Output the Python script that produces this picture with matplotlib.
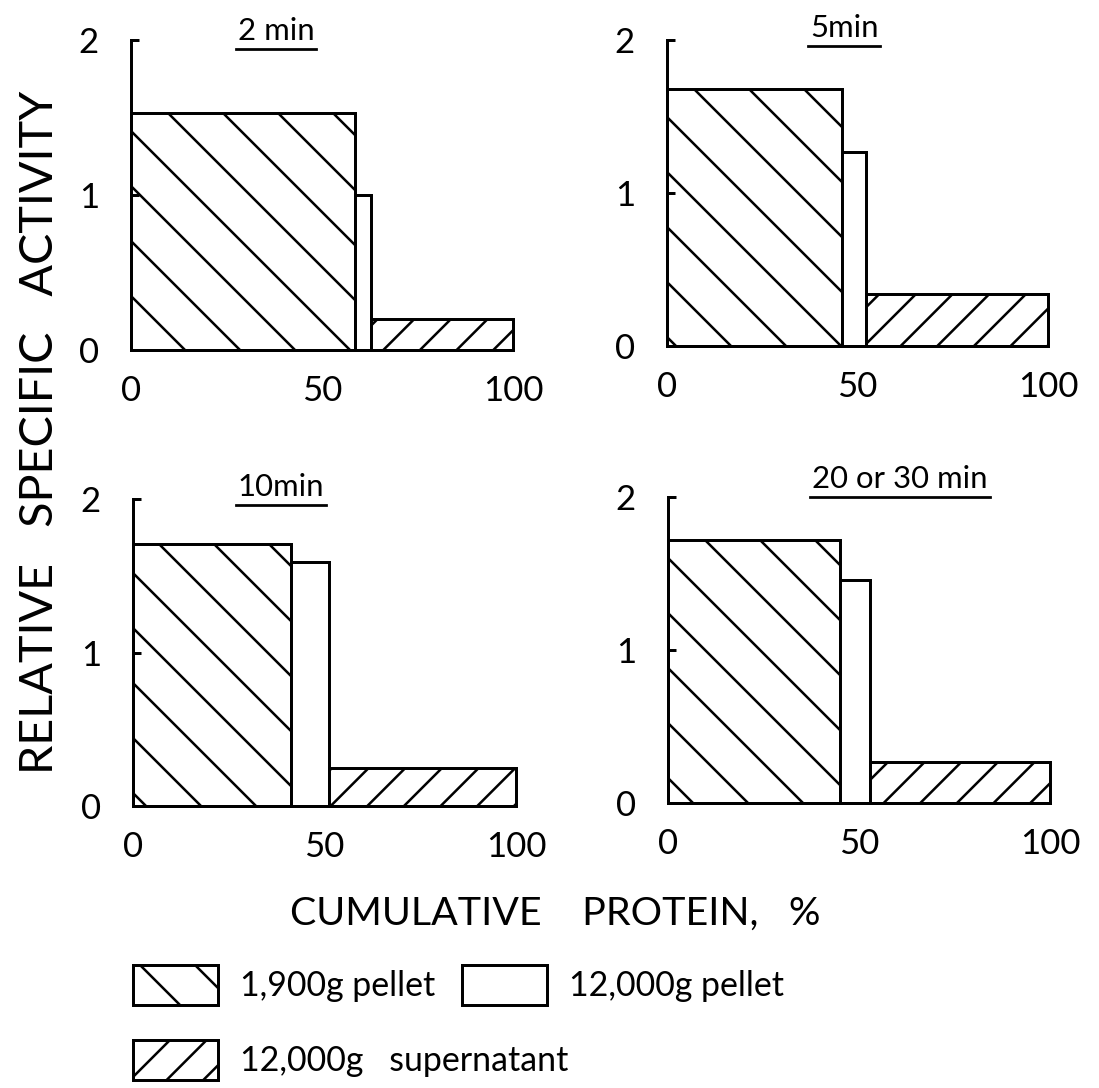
import matplotlib
matplotlib.use("Agg")
from matplotlib import pyplot as plt
from matplotlib.patches import Patch
from matplotlib.lines import Line2D

# sedimentation time of each panel
panels = ["2 min", "5min", "10min", "20 or 30 min"]

# share of total protein in each fraction, %
pellet1900_protein = [58.6, 46.0, 41.3, 45.0]
pellet12000_protein = [4.2, 6.2, 10.0, 8.0]
supernatant_protein = [37.2, 47.8, 48.7, 47.0]

# relative specific activity of each fraction
pellet1900_activity = [1.53, 1.68, 1.71, 1.72]
pellet12000_activity = [1.00, 1.27, 1.59, 1.46]
supernatant_activity = [0.20, 0.34, 0.25, 0.27]

x_ticks = [0, 50, 100]
y_ticks = [0, 1, 2]

# hatch spacing scales with the inch, so a high dpi gives the wide spacing of the drawing
DPI = 330
W, H = 1099, 1088
plt.rcParams["font.family"] = ["Lato", "DejaVu Sans"]
plt.rcParams["hatch.linewidth"] = 0.55
plt.rcParams["hatch.color"] = "black"

fig = plt.figure(figsize=(W / DPI, H / DPI), dpi=DPI)

# axes boxes in pixels: left, baseline, right, top
boxes = [(131, 350, 513, 40), (667, 346, 1048, 40),
         (133, 806, 516, 499), (668, 803, 1050, 497)]
title_pos = [(38, 2.06), (46.5, 2.08), (38.6, 2.08), (60.7, 2.12)]

lw = 0.65
fs = 7.6
hatches = ["\\\\", "", "///"]
titles = []
for i, (x0, yb, x1, yt) in enumerate(boxes):
    ax = fig.add_axes([x0 / W, (H - yb) / H, (x1 - x0) / W, (yb - yt) / H])
    lefts = [0, pellet1900_protein[i], pellet1900_protein[i] + pellet12000_protein[i]]
    widths = [pellet1900_protein[i], pellet12000_protein[i], supernatant_protein[i]]
    heights = [pellet1900_activity[i], pellet12000_activity[i], supernatant_activity[i]]
    for l, w, h, ht in zip(lefts, widths, heights, hatches):
        ax.bar(l, h, width=w, align="edge", facecolor="white", edgecolor="black",
               linewidth=lw, hatch=ht, clip_on=False)
    ax.set_xlim(0, 100)
    ax.set_ylim(0, 2)
    for s in ["top", "right"]:
        ax.spines[s].set_visible(False)
    for s in ["left", "bottom"]:
        ax.spines[s].set_linewidth(lw)
    ax.set_xticks(x_ticks)
    ax.set_xticklabels([str(v) for v in x_ticks])
    ax.set_yticks(y_ticks)
    ax.set_yticklabels([str(v) for v in y_ticks])
    ax.tick_params(axis="x", length=0, pad=5.5, labelsize=fs)
    ax.tick_params(axis="y", direction="in", length=1.8, width=lw, pad=7, labelsize=fs)
    ax.patch.set_visible(False)
    tx, ty = title_pos[i]
    t = ax.text(tx, ty, panels[i], ha="center", va="center", fontsize=6.8, clip_on=False)
    titles.append(t)

# underline the panel titles
fig.canvas.draw()
inv = fig.transFigure.inverted()
for t in titles:
    bb = t.get_window_extent()
    (a, b), (c, d) = inv.transform([(bb.x0 - 2, bb.y0 - 4), (bb.x1 + 2, bb.y0 - 4)])
    fig.add_artist(Line2D([a, c], [b, d], color="black", linewidth=0.6))

fig.text(40 / W, (H - 432) / H, "RELATIVE   SPECIFIC   ACTIVITY", rotation=90,
         ha="center", va="center", fontsize=10.2)
fig.text(555 / W, (H - 914) / H, "CUMULATIVE    PROTEIN,   %", ha="center", va="center",
         fontsize=8.6)

h1 = Patch(facecolor="white", edgecolor="black", hatch="\\\\", linewidth=lw)
h2 = Patch(facecolor="white", edgecolor="black", linewidth=lw)
h3 = Patch(facecolor="white", edgecolor="black", hatch="///", linewidth=lw)
common = dict(frameon=False, fontsize=7.4, handlelength=2.5, handleheight=1.42,
              handletextpad=0.65, borderpad=0, borderaxespad=0, loc="center left")
fig.legend([h1, h2], ["1,900g pellet", "12,000g pellet"], ncol=2, columnspacing=0.8,
           bbox_to_anchor=(133 / W, (H - 985) / H), **common)
fig.legend([h3], ["12,000g   supernatant"],
           bbox_to_anchor=(133 / W, (H - 1060) / H), **common)

fig.savefig("out.png", dpi=DPI, facecolor="white")
